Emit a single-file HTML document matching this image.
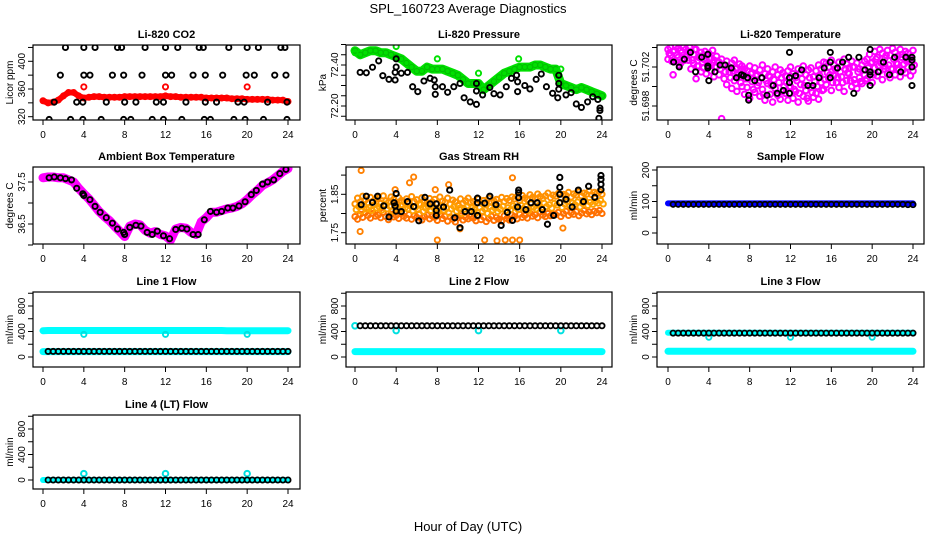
<!DOCTYPE html>
<html><head><meta charset="utf-8"><style>
html,body{margin:0;padding:0;background:#fff;}
svg{display:block;font-family:"Liberation Sans",Arial,sans-serif;}
</style></head><body>
<svg id="chart" width="936" height="540" viewBox="0 0 936 540" xmlns="http://www.w3.org/2000/svg">
<rect x="0" y="0" width="936" height="540" fill="#fff"/>
<text x="468" y="13" text-anchor="middle" font-size="13">SPL_160723  Average Diagnostics</text>
<text x="468" y="531" text-anchor="middle" font-size="13">Hour of Day (UTC)</text>
</svg>
<script>
// ---------- DATA ----------
const hourTicks = [0,4,8,12,16,20,24];
// CO2 (ppm)
const co2BlackX = [2.2,4,5.1,7.3,7.7,10,12,13.2,15.3,15.7,18.2,20,21.1,23.3,23.7, 1.7,4,4.6,6.8,7.9,9.7,12,12.6,14.7,15.9,17.6,19.9,20.7,22.7,23.8, 1.1,3.3,3.9,6.2,8,9.1,11.1,11.8,14,15.9,17,19.1,19.7,22,23.9, 0.6,2.7,3.9,5.7,7.9,8.6,10.7,11.8,13.6,15.8,16.4,18.7,19.8,21.6,23.9];
const co2BlackY = [420,420,420,420,420,420,420,420,420,420,420,420,420,420,420, 380,380,380,380,380,380,380,380,380,380,380,380,380,380,380, 341,341,341,341,341,341,341,341,341,341,341,341,341,341,341, 316,316,316,316,316,316,316,316,316,316,316,316,316,316,316];
const co2Red = [343,340,341,344,350,355,355,350,347,348,349,349,348,348,348,348,349,349,349,349,349,349,349,349,350,349,349,348,348,348,348,348,347,347,347,347,347,346,346,346,345,345,345,345,345,344,344,344,342];
const co2RedOutX = [4,12,20];
const co2RedOutY = [363,363,363];
// Pressure (kPa)
const presGreen = [72.47,72.45,72.46,72.47,72.47,72.46,72.46,72.45,72.44,72.43,72.41,72.39,72.37,72.37,72.39,72.38,72.38,72.38,72.37,72.36,72.35,72.33,72.31,72.31,72.31,72.28,72.30,72.32,72.34,72.36,72.37,72.38,72.39,72.39,72.39,72.40,72.40,72.39,72.38,72.38,72.31,72.30,72.29,72.28,72.29,72.28,72.27,72.26,72.25];
const presGreenOutX = [0,4,8,12,15.9,20];
const presGreenOutY = [72.46,72.49,72.43,72.36,72.43,72.38];
const presBlackX = [0.5,1.1,1.7,2.3,2.7,3.3,3.9,3.9,4,4,4.5,5.1,5.6,6.1,6.7,7.3,7.7,7.8,7.8,8.5,9,9.6,10.2,10.6,11.2,11.8,11.8,11.8,12.4,13.1,13.5,14.1,14.7,15.2,15.7,15.8,15.8,16.5,17,17.6,18.1,18.6,19.2,19.7,19.8,19.8,19.8,20.5,21,21.5,22,22.6,23.1,23.6,23.8,23.8,23.7];
const presBlackY = [72.364,72.362,72.389,72.42,72.348,72.33,72.327,72.364,72.43,72.39,72.36,72.364,72.294,72.27,72.322,72.335,72.327,72.294,72.257,72.294,72.267,72.294,72.31,72.24,72.22,72.208,72.31,72.273,72.254,72.29,72.26,72.254,72.294,72.335,72.35,72.318,72.27,72.3,72.283,72.33,72.356,72.294,72.262,72.24,72.282,72.31,72.35,72.254,72.265,72.21,72.193,72.22,72.245,72.232,72.19,72.178,72.14];
// Li-820 temperature: units of 0.0001 degC above 51.69, x = i*0.25 h
const tempMagA = [138,140,136,141,139,137,140,138,135, 136,133,138,130,135,128,132,134,129,127,131, 125,128,122,126,120,124,127,119,123,121,118, 116,121,114,119,112,117,122,113,118,110,115,120,112,117,114, 111,116,120,113,109,118,114,121,112,117,119,110,116,122,118,125, 124,120,127,122,118,125,121,128,123,119,126,120,124,118,122,126, 128,133,125,136,130,138,134,129,137,132,139,135,131,138,133,136, 134,130,137];
const tempMagB = [128,132,112,126,130,124,129,131,127, 118,124,108,121,115,119,113,122,116,110,120, 112,67,108,102,115,98,106,95,110,100,92, 99,88,105,94,101,90,97,86,103,92,84,98,91,87,95, 93,86,100,88,95,84,102,90,96,85,99,89,93,87,104,97, 102,108,96,111,104,99,110,95,106,113,100,107,98,109,103,112, 108,115,104,119,111,116,107,121,113,109,118,112,123,110,117,114, 120,111,116];
const tempMagC = [134,126,137,132,122,135,127,133,140, 127,138,121,131,125,136,122,128,137,120,126, 118,122,115,120,109,116,118,112,104,115,108, 108,113,97,111,104,109,92,106,111,101,107,93,104,109,100, 104,99,110,97,106,93,108,101,88,109,94,105,100,111,96,107, 114,112,104,118,109,115,104,118,114,106,120,103,115,105,117,106, 119,124,112,128,121,124,118,132,122,118,128,124,117,130,123,126, 128,124,122];
const tempBlackX = [0.55,1.1,1.6,2.2,2.7,3.3,3.9,3.9,3.9,4,4.6,5.1,5.6,6.2,6.7,7.2,7.4,7.8,7.9,7.9,8.5,9.2,9.7,10.3,10.7,11.3,11.9,11.9,11.9,11.9,12.5,13.1,13.7,14.2,14.8,15.3,15.9,15.9,15.9,16.6,17.1,17.7,18.2,18.7,19.3,19.8,19.8,19.8,19.8,20.6,21.1,21.7,22.2,22.8,23.3,23.9,23.9,23.9,23.9];
const tempBlackY = [51.7025,51.702,51.7028,51.7035,51.7015,51.703,51.7033,51.7021,51.7019,51.7006,51.7015,51.7022,51.7022,51.7019,51.7009,51.7012,51.7011,51.7009,51.6991,51.6986,51.7006,51.7009,51.6991,51.7001,51.6993,51.6996,51.7004,51.7009,51.7035,51.6993,51.7011,51.7017,51.7001,51.7001,51.7009,51.7019,51.7009,51.7025,51.7035,51.7019,51.7025,51.703,51.6993,51.703,51.7017,51.7038,51.7015,51.7012,51.7001,51.7015,51.7025,51.7012,51.703,51.7015,51.703,51.703,51.7027,51.702,51.7001];
// Ambient box temperature (degC), x = i*0.5 h
const ambMag = [37.6,37.62,37.62,37.6,37.6,37.55,37.5,37.35,37.22,37.1,36.95,36.8,36.68,36.58,36.45,36.33,36.2,36.45,36.5,36.48,36.35,36.28,36.32,36.25,36.22,36.12,36.38,36.42,36.4,36.3,36.25,36.55,36.65,36.78,36.78,36.82,36.86,36.88,36.92,36.98,37.08,37.2,37.3,37.42,37.48,37.55,37.65,37.75,37.82];
const ambBlackX = [0.6,1.1,1.7,2.2,2.8,3.3,3.9,4,4.6,5.1,5.6,6.2,6.8,7.3,7.9,8,8.5,9.1,9.6,10.2,10.7,11.2,11.8,12.4,13,13.6,14.1,14.7,15.2,15.8,16.4,17,17.5,18.1,18.6,19.2,19.8,20.4,20.9,21.5,22,22.6,23.2,23.8];
const ambBlackY = [37.6,37.62,37.6,37.58,37.55,37.35,37.22,37.18,37.08,36.92,36.78,36.65,36.52,36.38,36.3,36.25,36.42,36.47,36.45,36.3,36.25,36.33,36.22,36.15,36.37,36.4,36.38,36.25,36.25,36.6,36.8,36.78,36.8,36.88,36.88,36.93,37.03,37.2,37.3,37.45,37.5,37.55,37.7,37.8];
// Gas stream RH: units of 0.001 percent above 1.7, x = i*0.25 h
const rhA = [125,140,130,145,135,128,142,132,138, 140,126,146,133,129,143,137,125,141,134,130, 138,127,144,131,136,125,141,133,128,139,130, 137,126,143,132,129,140,124,135,130,121,138,127,133,140,129, 131,125,138,127,134,122,140,129,133,137,126,142,131,139,134,143, 138,144,133,147,140,136,149,142,138,151,144,139,146,153,141,148, 145,152,141,150,147,155,143,151,148,156,146,153,150,158,149,155, 152,157,150];
const rhB = [92,85,98,90,102,95,88,100,93, 96,89,103,92,84,98,91,95,87,100,93, 88,97,85,94,90,99,83,92,96,86,93, 90,82,96,87,93,80,91,85,78,89,94,83,90,86,92, 88,81,95,84,91,79,87,93,82,90,85,80,94,87,83,96, 92,86,98,90,95,88,101,93,97,89,104,96,92,100,94,99, 97,103,92,100,106,95,102,98,105,94,101,108,99,104,97,106, 102,108,100];
const rhC = [110,118,106,121,112,115,108,123,114, 117,109,124,112,119,106,120,113,110,122,115, 112,120,107,116,110,123,105,114,118,108,116, 114,104,120,109,115,101,112,118,106,113,100,111,117,108,114, 110,103,116,106,112,100,118,109,114,105,111,119,107,115,110,120, 116,110,122,113,119,108,125,117,112,121,115,127,118,123,114,126, 122,128,116,125,131,119,127,123,130,117,126,133,121,129,124,131, 127,134,125];
const rhOutX = [0.6,0.5,8,10.2,12.6,13.8,14.6,15.3,15.3,16,20.2,5.3,5.7,9.1,3.9,7.8];
const rhOutY = [1.912,1.753,1.731,1.76,1.731,1.729,1.731,1.731,1.893,1.731,1.762,1.88,1.895,1.875,1.862,1.862];
const rhBlackX = [0.6,1.1,1.7,2.2,2.8,3.3,3.8,3.9,4,4,4.5,5.1,5.7,6.2,6.8,7.3,7.9,7.9,7.9,8.6,9.2,9.7,10.2,10.7,11.3,11.9,11.9,11.9,12.6,13.1,13.7,14.2,14.8,15.3,15.8,15.9,15.9,15.9,16.6,17.1,17.7,18.2,18.7,19.3,19.9,19.9,19.9,19.9,20.5,21.1,21.7,22.2,22.7,23.3,23.9,23.9,23.9,23.9];
const rhBlackY = [1.823,1.845,1.829,1.845,1.82,1.791,1.828,1.82,1.852,1.806,1.805,1.831,1.818,1.781,1.842,1.825,1.825,1.808,1.795,1.817,1.861,1.789,1.763,1.805,1.805,1.828,1.84,1.795,1.827,1.845,1.823,1.769,1.803,1.782,1.817,1.861,1.841,1.854,1.81,1.828,1.828,1.81,1.772,1.795,1.894,1.868,1.85,1.828,1.837,1.817,1.861,1.831,1.871,1.842,1.899,1.889,1.876,1.862];
// Flows (ml/min). Colored series x = i*0.5 h (0..24); black series x = 0.5 + i*0.5 h
const sampleBlue = [94,94,94,94,94,94,94,94,94,94,94,94,94,94,94,94,94,94,94,94,94,94,94,94,94,94,94,94,94,94,94,94,94,94,94,94,94,94,94,94,94,94,94,94,94,94,94,94,94];
const sampleBlack = [91,91,91,91,91,91,91,91,91,91,91,91,91,91,91,91,91,91,91,91,91,91,91,91,91,91,91,91,91,91,91,91,91,91,91,91,91,91,91,91,91,91,91,91,91,91,90,90];
const line1Cyan = [412,415,415,415,415,415,415,415,415,415,415,415,415,415,415,415,415,415,415,415,415,415,415,415,415,415,415,415,415,415,415,415,415,415,415,415,412,412,412,412,412,412,412,412,412,412,412,412,412];
const line1Low = [85,85,85,85,85,85,85,85,85,85,85,85,85,85,85,85,85,85,85,85,85,85,85,85,85,85,85,85,85,85,85,85,85,85,85,85,85,85,85,85,85,85,85,85,85,85,85,85,85];
const line1Black = [88,88,88,88,88,88,88,88,88,88,88,88,88,88,88,88,88,88,88,88,88,88,88,88,88,88,88,88,88,88,88,88,88,88,88,88,88,88,88,88,88,88,88,88,88,88,88,88];
const line1DipX = [4,12,20];
const line1DipY = [355,355,355];
const line2Cyan = [85,85,85,85,85,85,85,85,85,85,85,85,85,85,85,85,85,85,85,85,85,85,85,85,85,85,85,85,85,85,85,85,85,85,85,85,85,85,85,85,85,85,85,85,85,85,85,85,85];
const line2Black = [490,490,490,490,490,490,490,490,490,490,490,490,490,490,490,490,490,490,490,490,490,490,490,490,490,490,490,490,490,490,490,490,490,490,490,490,490,490,490,490,490,490,490,490,490,490,490,490];
const line2CyanOutX = [0,4,12,20];
const line2CyanOutY = [490,415,415,415];
const line3CyanHigh = [380,380,380,380,380,380,380,380,380,380,380,380,380,380,380,380,380,380,380,380,380,380,380,380,380,380,380,380,380,380,380,380,380,380,380,380,380,380,380,380,380,380,380,380,380,380,380,380,380];
const line3Cyan = [90,90,90,90,90,90,90,90,90,90,90,90,90,90,90,90,90,90,90,90,90,90,90,90,90,90,90,90,90,90,90,90,90,90,90,90,90,90,90,90,90,90,90,90,90,90,90,90,90];
const line3Black = [375,375,375,375,375,375,375,375,375,375,375,375,375,375,375,375,375,375,375,375,375,375,375,375,375,375,375,375,375,375,375,375,375,375,375,375,375,375,375,375,375,375,375,375,375,375,375,375];
const line3DipX = [4,12,20];
const line3DipY = [310,310,310];
const line4Cyan = [0,0,0,0,0,0,0,0,0,0,0,0,0,0,0,0,0,0,0,0,0,0,0,0,0,0,0,0,0,0,0,0,0,0,0,0,0,0,0,0,0,0,0,0,0,0,0,0,0];
const line4Black = [0,0,0,0,0,0,0,0,0,0,0,0,0,0,0,0,0,0,0,0,0,0,0,0,0,0,0,0,0,0,0,0,0,0,0,0,0,0,0,0,0,0,0,0,0,0,0,0];
const line4BumpX = [4,12,20];
const line4BumpY = [100,100,100];

// ---------- DRAWING ----------
const NS = 'http://www.w3.org/2000/svg';
const svg = document.getElementById('chart');
function mk(tag, attrs, parent){ const e=document.createElementNS(NS,tag); for(const k in attrs) e.setAttribute(k,attrs[k]); (parent||svg).appendChild(e); return e; }

const cols = [{L:33,R:300,h0:43,h24:288},{L:346,R:612,h0:355,h24:602},{L:657,R:924,h0:668,h24:913}];
const rows = [{T:45,B:120},{T:167,B:244},{T:292,B:367},{T:415,B:489}];

function makePanel(id, title, ylab, col, row, v1, p1, v2, p2, ticks, labels){
  const c = cols[col], r = rows[row];
  const g = mk('g', {});
  
  
  const xs = h => c.h0 + (c.h24 - c.h0) * h / 24;
  const ys = v => p1 + (v - v1) * (p2 - p1) / (v2 - v1);
  const cp = mk('clipPath', {id: 'clip-' + id}, g);
  mk('rect', {x:c.L, y:r.T, width:c.R-c.L, height:r.B-r.T}, cp);
  const plot = mk('g', {'clip-path':'url(#clip-' + id + ')'}, g);
  
  
  const t = mk('text', {x:(c.L+c.R)/2, y:r.T-7, 'text-anchor':'middle', 'font-size':'11', 'font-weight':'bold'}, g);
  t.textContent = title;
  
  
  const xa = mk('g', {}, g);
  
  
  hourTicks.forEach(h => {
    mk('line', {x1:xs(h), x2:xs(h), y1:r.B, y2:r.B+5, stroke:'#000', 'stroke-width':1}, xa);
    const tl = mk('text', {x:xs(h), y:r.B+18, 'text-anchor':'middle', 'font-size':'10'}, xa);
    tl.textContent = h;
  });
  const ya = mk('g', {}, g);
  
  
  ticks.forEach((v, i) => {
    const y = ys(v);
    if (y < r.T - 1 || y > r.B + 1) return;
    mk('line', {x1:c.L-5, x2:c.L, y1:y, y2:y, stroke:'#000', 'stroke-width':1}, ya);
    if (labels[i]) {
      const tl = mk('text', {x:0, y:0, 'text-anchor':'middle', 'font-size':'10', transform:'translate(' + (c.L-8) + ',' + y + ') rotate(-90)'}, ya);
      tl.textContent = labels[i];
    }
  });
  const yt = mk('text', {x:0, y:0, 'text-anchor':'middle', 'font-size':'10', transform:'translate(' + (c.L-20) + ',' + ((r.T+r.B)/2) + ') rotate(-90)'}, g);
  yt.textContent = ylab;
  
  
  const box = mk('rect', {x:c.L, y:r.T, width:c.R-c.L, height:r.B-r.T, fill:'none', stroke:'#000', 'stroke-width':1.2}, g);
  
  
  return {plot, xs, ys};
}

function pts(P, xArr, yArr, color, name, r, sw){
  const g = mk('g', {fill:'none', stroke:color, 'stroke-width':sw||1.9}, P.plot);
  
  
  yArr.forEach((v, i) => {
    mk('circle', {cx:P.xs(xArr[i]), cy:P.ys(v), r:r||2.6}, g);
  });
}
function ptsStep(P, yArr, step, offset, color, name, r, sw, scale, base){
  const xArr = yArr.map((_, i) => offset + i*step);
  const vals = yArr.map(v => base + v*scale);
  pts(P, xArr, vals, color, name, r, sw);
}
function band(P, yArr, step, offset, color, width, name, scale, base){
  const d = yArr.map((v, i) => P.xs(offset + i*step).toFixed(1) + ',' + P.ys(base + v*scale).toFixed(1)).join(' ');
  const pl = mk('polyline', {points:d, fill:'none', stroke:color, 'stroke-width':width, 'stroke-linejoin':'round', 'stroke-linecap':'round'}, P.plot);
  
  
}

let P = makePanel('co2', 'Li-820 CO2', 'Licor ppm', 0, 0, 320, 116.7, 400, 61.3, [320,340,360,380,400,420], ['320','','360','','400','']);
band(P, co2Red, 0.5, 0, '#ff0000', 6, 'co2-red-band', 1, 0);
ptsStep(P, co2Red, 0.5, 0, '#ff0000', 'co2-red-points', 2.6, 1.8, 1, 0);
pts(P, co2RedOutX, co2RedOutY, '#ff0000', 'co2-red-outliers');
pts(P, co2BlackX, co2BlackY, '#000', 'co2-black-points');

P = makePanel('pressure', 'Li-820 Pressure', 'kPa', 1, 0, 72.2, 106, 72.4, 65, [72.15,72.2,72.25,72.3,72.35,72.4,72.45,72.5], ['','72.20','','','','72.40','','']);
band(P, presGreen, 0.5, 0, '#00e000', 9, 'pressure-green-band', 1, 0);
ptsStep(P, presGreen, 0.5, 0, '#00c000', 'pressure-green-points', 2.6, 1.2, 1, 0);
pts(P, presGreenOutX, presGreenOutY, '#00e000', 'pressure-green-outliers');
pts(P, presBlackX, presBlackY, '#000', 'pressure-black-points');

P = makePanel('temperature', 'Li-820 Temperature', 'degrees C', 2, 0, 51.698, 106, 51.702, 67, [51.698,51.700,51.702,51.704], ['51.698','','51.702','']);
ptsStep(P, tempMagA, 0.25, 0, '#ff00ff', 'temperature-magenta-a', 2.8, 2, 0.0001, 51.69);
ptsStep(P, tempMagB, 0.25, 0, '#ff00ff', 'temperature-magenta-b', 2.8, 2, 0.0001, 51.69);
ptsStep(P, tempMagC, 0.25, 0.12, '#ff00ff', 'temperature-magenta-c', 2.8, 2, 0.0001, 51.69);
pts(P, tempBlackX, tempBlackY, '#000', 'temperature-black-points');

P = makePanel('ambient', 'Ambient Box Temperature', 'degrees C', 0, 1, 36.5, 224, 37.5, 182, [36,36.5,37,37.5,38], ['','36.5','','37.5','']);
band(P, ambMag, 0.5, 0, '#ff00ff', 9, 'ambient-magenta-band', 1, 0);
pts(P, ambBlackX, ambBlackY, '#000', 'ambient-black-points');

P = makePanel('rh', 'Gas Stream RH', 'percent', 1, 1, 1.75, 232.7, 1.85, 194.3, [1.75,1.8,1.85,1.9], ['1.75','','1.85','']);
ptsStep(P, rhA, 0.25, 0, '#ff9000', 'rh-orange-a', 2.6, 2, 0.001, 1.7);
ptsStep(P, rhB, 0.25, 0, '#ff7000', 'rh-orange-b', 2.6, 2, 0.001, 1.7);
ptsStep(P, rhC, 0.25, 0.12, '#ffa000', 'rh-orange-c', 2.6, 2, 0.001, 1.7);
pts(P, rhOutX, rhOutY, '#ff8000', 'rh-orange-outliers');
pts(P, rhBlackX, rhBlackY, '#000', 'rh-black-points', 2.6, 2);

P = makePanel('sample-flow', 'Sample Flow', 'ml/min', 2, 1, 0, 233, 200, 170, [0,50,100,150,200], ['0','','100','','200']);
band(P, sampleBlue, 0.5, 0, '#0000ff', 6, 'sample-blue-band', 1, 0);
ptsStep(P, sampleBlack, 0.5, 0.5, '#000', 'sample-black-points', 2.6, 1.8, 1, 0);

const flowTicks = [0,200,400,600,800,1000], flowLabels = ['0','','400','','800',''];
P = makePanel('line1', 'Line 1 Flow', 'ml/min', 0, 2, 0, 357, 800, 306, flowTicks, flowLabels);
band(P, line1Cyan, 0.5, 0, '#00ffff', 7, 'line1-cyan-high', 1, 0);
band(P, line1Low, 0.5, 0, '#00ffff', 7, 'line1-cyan-low', 1, 0);
pts(P, line1DipX, line1DipY, '#00e0e0', 'line1-cyan-dips');
ptsStep(P, line1Black, 0.5, 0.5, '#000', 'line1-black-points', 2.6, 1.8, 1, 0);

P = makePanel('line2', 'Line 2 Flow', 'ml/min', 1, 2, 0, 357, 800, 306, flowTicks, flowLabels);
band(P, line2Cyan, 0.5, 0, '#00ffff', 7, 'line2-cyan-low', 1, 0);
pts(P, line2CyanOutX, line2CyanOutY, '#00e0e0', 'line2-cyan-outliers', 2.8, 2);
ptsStep(P, line2Black, 0.5, 0.5, '#000', 'line2-black-points', 2.6, 1.8, 1, 0);

P = makePanel('line3', 'Line 3 Flow', 'ml/min', 2, 2, 0, 357, 800, 306, flowTicks, flowLabels);
band(P, line3CyanHigh, 0.5, 0, '#00ffff', 6, 'line3-cyan-high', 1, 0);
band(P, line3Cyan, 0.5, 0, '#00ffff', 7, 'line3-cyan-low', 1, 0);
pts(P, line3DipX, line3DipY, '#00e0e0', 'line3-cyan-dips');
ptsStep(P, line3Black, 0.5, 0.5, '#000', 'line3-black-points', 2.6, 1.8, 1, 0);

P = makePanel('line4', 'Line 4 (LT) Flow', 'ml/min', 0, 3, 0, 480, 800, 429, flowTicks, flowLabels);
band(P, line4Cyan, 0.5, 0, '#00ffff', 6, 'line4-cyan', 1, 0);
pts(P, line4BumpX, line4BumpY, '#00e0e0', 'line4-cyan-bumps', 2.8, 2);
ptsStep(P, line4Black, 0.5, 0.5, '#000', 'line4-black-points', 2.6, 1.8, 1, 0);
</script>
</body></html>
